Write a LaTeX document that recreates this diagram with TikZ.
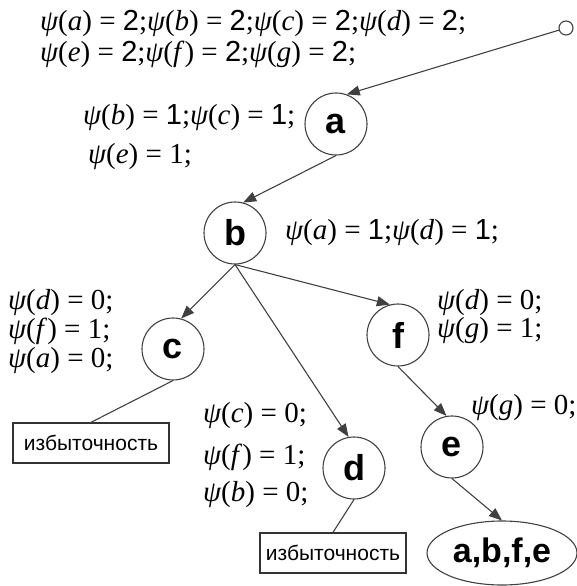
\documentclass[tikz,border=0pt]{standalone}
\usepackage{fontspec}
\setmainfont{Liberation Serif}
\setsansfont{Liberation Sans}
\usetikzlibrary{arrows.meta, shapes.geometric}

\newcommand{\ps}[2]{{\itshape ψ}(\textit{#1}) = #2;}

\begin{document}
\begin{tikzpicture}[
  x=1pt, y=-1pt,
  vert/.style={circle, draw=black!75, line width=1.1pt, minimum size=62pt, inner sep=0pt, font=\fontsize{36}{36}\sffamily\bfseries},
  start/.style={circle, draw=black!75, line width=1.1pt, minimum size=14pt, inner sep=0pt},
  goal/.style={ellipse, draw=black!75, line width=1.1pt, minimum width=150pt, minimum height=64pt, inner sep=0pt, font=\fontsize{34}{34}\sffamily\bfseries},
  redund/.style={rectangle, draw=black!80, line width=1.3pt, minimum height=40pt, inner sep=0pt, font=\fontsize{21}{21}\sffamily},
  lbl/.style={anchor=west, inner sep=0pt, font=\fontsize{29}{29}\selectfont},
  edge/.style={-{Triangle[length=13pt, width=10pt]}, line width=1.1pt, black!75},
  link/.style={line width=1.1pt, black!75}]

\useasboundingbox (0,0) rectangle (577,586);

% ---------- search tree vertices
\node[start] (s) at (566,28) {};
\node[vert] (a) at (336,124) {a};
\node[vert] (b) at (235,233) {b};
\node[vert] (c) at (173,349) {c};
\node[vert] (f) at (398,335) {f};
\node[vert] (d) at (354,468) {d};
\node[vert] (e) at (452,447) {e};
\node[goal] (res) at (502,553) {a,b,f,e};
\node[redund, minimum width=156pt] (r1) at (91,443) {избыточность};
\node[redund, minimum width=146pt] (r2) at (333,553) {избыточность};

% ---------- values of psi next to the vertices
\node[lbl] (p0a) at (40,23) {\ps{a}{\textsf{2}}\ps{b}{\textsf{2}}\ps{c}{\textsf{2}}\ps{d}{\textsf{2}}};
\node[lbl] (p0b) at (40,54) {\ps{e}{\textsf{2}}\ps{f}{\textsf{2}}\ps{g}{\textsf{2}}};
\node[lbl] (pa1) at (83,118) {\ps{b}{\textsf{1}}\ps{c}{\textsf{1}}};
\node[lbl] (pa2) at (88,157) {\ps{e}{1}};
\node[lbl] (pb) at (285,233) {\ps{a}{\textsf{1}}\ps{d}{\textsf{1}}};
\node[lbl] (pc1) at (8,303) {\ps{d}{0}};
\node[lbl] (pc2) at (8,331) {\ps{f}{1}};
\node[lbl] (pc3) at (8,361) {\ps{a}{0}};
\node[lbl] (pf1) at (437,303) {\ps{d}{0}};
\node[lbl] (pf2) at (437,331) {\ps{g}{1}};
\node[lbl] (pe) at (471,408) {\ps{g}{0}};
\node[lbl] (pd1) at (203,416) {\ps{c}{0}};
\node[lbl] (pd2) at (203,457) {\ps{f}{1}};
\node[lbl] (pd3) at (203,495) {\ps{b}{0}};

% ---------- arcs
\draw[edge] (s) -- (a.70);
\draw[edge] (a.south) -- (b.75);
\draw[edge] (b.south) -- (c.75);
\draw[edge] (b.south) -- (d.100);
\draw[edge] (b.south) -- (f.105);
\draw[edge] (f.south) -- (e.100);
\draw[edge] (e.south) -- (res.north);
\draw[link] (c.south) -- (r1.north);
\draw[link] (d.south) -- (r2.north);
\end{tikzpicture}
\end{document}
